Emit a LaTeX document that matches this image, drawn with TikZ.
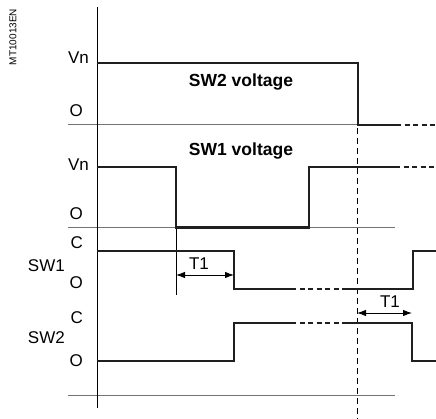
\documentclass[tikz,border=0pt]{standalone}
\usepackage{fontspec}
\setmainfont{Liberation Sans}
\usetikzlibrary{arrows.meta}
\begin{document}
\begin{tikzpicture}[x=1pt,y=-1pt,
  sig/.style={line width=2.3pt,color=black!88,line join=miter},
  sigdash/.style={line width=2.3pt,color=black!88,dash pattern=on 5pt off 3.5pt},
  axisl/.style={line width=0.9pt,color=black},
  grid/.style={line width=1pt,color=black!55},
  lbl/.style={font=\fontsize{17}{20}\selectfont,inner sep=0pt},
  ttl/.style={font=\fontsize{17.5}{20}\selectfont\bfseries,inner sep=0pt},
  tarrow/.style={line width=0.9pt,{Latex[length=9pt,width=6.5pt]}-{Latex[length=9pt,width=6.5pt]}},
  vdash/.style={line width=0.9pt,dash pattern=on 6pt off 4pt}]
\useasboundingbox (0,0) rectangle (436,419);
% reference label
\node[rotate=90,font=\fontsize{10}{12}\selectfont,inner sep=0pt] (ref) at (13,37) {MT10013EN};
% gray baselines
\draw[grid] (68,125) -- (395,125);
\draw[grid] (68,227.5) -- (395,227.5);
\draw[grid] (68,395) -- (395,395);
% axis
\draw[axisl] (97,7) -- (97,408);
% dashed vertical marker
\draw[vdash] (357,128) -- (357,419);
% T1 helper line
\draw[line width=0.8pt] (176,227.5) -- (176,295);
% SW2 voltage
\draw[sig] (97,63) -- (358,63) -- (358,125) -- (396,125);
\draw[sigdash] (396,125) -- (436,125);
% SW1 voltage
\draw[sig] (97,167) -- (176,167) -- (176,227.5) -- (309,227.5) -- (309,167) -- (395,167);
\draw[sigdash] (395,167) -- (436,167);
% SW1 state
\draw[sig] (97,251) -- (234,251) -- (234,289) -- (291,289);
\draw[sigdash] (291,289) -- (347,289);
\draw[sig] (347,289) -- (413,289) -- (413,251) -- (436,251);
% SW2 state
\draw[sig] (97,361) -- (234,361) -- (234,323) -- (291,323);
\draw[sigdash] (291,323) -- (347,323);
\draw[sig] (347,323) -- (412,323) -- (412,361) -- (436,361);
% T1 arrows
\coordinate (a1) at (176,275); \coordinate (b1) at (234,275);
\draw[tarrow] (a1) -- (b1);
\node[lbl] (t1a) at (199,264) {T1};
\coordinate (a2) at (357,313); \coordinate (b2) at (412,313);
\draw[tarrow] (a2) -- (b2);
\node[lbl] (t1b) at (390,302) {T1};
% titles
\node[ttl] (t2) at (241,82) {SW2 voltage};
\node[ttl] (t1) at (241,151) {SW1 voltage};
% level labels
\node[lbl,anchor=east] (vn1) at (89,58) {Vn};
\node[lbl,anchor=east] (o1) at (83,111) {O};
\node[lbl,anchor=east] (vn2) at (89,165) {Vn};
\node[lbl,anchor=east] (o2) at (83,214) {O};
\node[lbl,anchor=east] (c1) at (83,243) {C};
\node[lbl,anchor=east] (o3) at (83,283) {O};
\node[lbl,anchor=east] (sw1) at (65,266) {SW1};
\node[lbl,anchor=east] (c2) at (83,318) {C};
\node[lbl,anchor=east] (sw2) at (65,338) {SW2};
\node[lbl,anchor=east] (o4) at (83,361) {O};
\end{tikzpicture}
\end{document}
